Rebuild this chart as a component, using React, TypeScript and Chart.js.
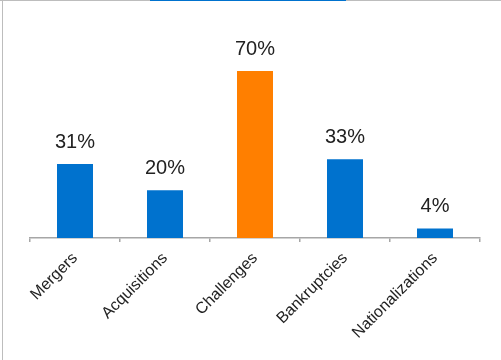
import React, { useEffect, useRef } from "react";
import { Chart, registerables } from "chart.js";

Chart.register(...registerables);

const categories = ["Mergers", "Acquisitions", "Challenges", "Bankruptcies", "Nationalizations"];
const values = [31, 20, 70, 33, 4];
const valueLabels = ["31%", "20%", "70%", "33%", "4%"];
const barColors = ["#0072CE", "#0072CE", "#FF7F00", "#0072CE", "#0072CE"];

const valueLabelPlugin = {
  id: "valueLabels",
  afterDatasetsDraw(chart: any) {
    const ctx = chart.ctx;
    const meta = chart.getDatasetMeta(0);
    ctx.save();
    ctx.font = '20px "Liberation Sans", Arial, sans-serif';
    ctx.fillStyle = "#222222";
    ctx.textAlign = "center";
    ctx.textBaseline = "alphabetic";
    meta.data.forEach((bar: any, i: number) => {
      ctx.fillText(valueLabels[i], bar.x, bar.y - 16);
    });
    ctx.restore();
  },
};

export default function App() {
  const canvasRef = useRef<HTMLCanvasElement | null>(null);

  useEffect(() => {
    if (!canvasRef.current) return;
    const chart = new Chart(canvasRef.current, {
      type: "bar",
      data: {
        labels: categories,
        datasets: [
          {
            data: values,
            backgroundColor: barColors,
            borderWidth: 0,
            barPercentage: 0.4,
            categoryPercentage: 1.0,
          },
        ],
      },
      options: {
        animation: false,
        responsive: false,
        maintainAspectRatio: false,
        layout: { padding: { left: 30, right: 21, top: 47, bottom: 0 } },
        plugins: {
          legend: { display: false },
          tooltip: { enabled: false },
        },
        scales: {
          x: {
            offset: true,
            grid: {
              display: true,
              drawOnChartArea: false,
              drawTicks: true,
              tickLength: 4,
              color: "#a6a6a6",
              lineWidth: 1.5,
              offset: true,
            },
            border: { display: true, color: "#a6a6a6", width: 1.5 },
            ticks: {
              minRotation: 45,
              maxRotation: 45,
              padding: 7,
              color: "#222222",
              font: { family: '"Liberation Sans", Arial, sans-serif', size: 16 },
            },
            afterFit(scale: any) {
              scale.height = 122;
            },
          },
          y: {
            display: false,
            min: 0,
            max: 80,
          },
        },
      },
      plugins: [valueLabelPlugin],
    });
    return () => chart.destroy();
  }, []);

  return (
    <div style={{ position: "fixed", left: 0, top: 0, width: 501, height: 360, background: "#fff" }}>
      <canvas ref={canvasRef} width={501} height={360} style={{ position: "absolute", left: 0, top: 0 }} />
      <div style={{ position: "absolute", left: 0, top: 0, width: 501, height: 1, background: "#bdbdbd" }} />
      <div style={{ position: "absolute", left: 2, top: 0, width: 1, height: 360, background: "#bdbdbd" }} />
      <div style={{ position: "absolute", left: 150, top: 0, width: 196, height: 1, background: "#0072CE" }} />
    </div>
  );
}
